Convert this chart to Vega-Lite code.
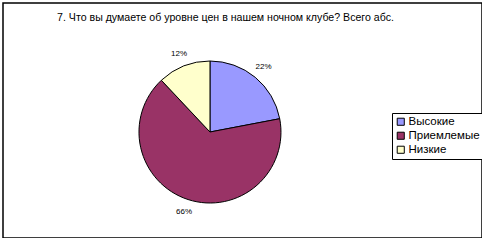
{
  "$schema": "https://vega.github.io/schema/vega-lite/v6.json",
  "width": 479,
  "height": 235,
  "autosize": {"type": "none"},
  "padding": {"left": 3, "top": 3, "right": 0, "bottom": 0},
  "background": "white",
  "config": {
    "view": {"stroke": "black", "strokeWidth": 1.5},
    "font": "Liberation Sans"
  },
  "title": {
    "text": "7. Что вы думаете об уровне цен в нашем ночном клубе? Всего абс.",
    "font": "Liberation Sans",
    "fontSize": 10.6,
    "fontWeight": "normal",
    "color": "black",
    "anchor": "middle",
    "frame": "group",
    "orient": "top",
    "offset": 0,
    "baseline": "top",
    "dx": -17,
    "dy": 21
  },
  "data": {
    "values": [
      {"n": 1, "answer": "Высокие", "share": 0.22, "chart": "Q7"},
      {"n": 2, "answer": "Приемлемые", "share": 0.66, "chart": "Q7"},
      {"n": 3, "answer": "Низкие", "share": 0.12, "chart": "Q7"}
    ]
  },
  "encoding": {
    "theta": {"field": "share", "type": "quantitative", "stack": true},
    "order": {"field": "n", "type": "quantitative"},
    "x": {"field": "chart", "type": "nominal", "scale": {"type": "point", "align": 0.4321}, "axis": null},
    "y": {"field": "chart", "type": "nominal", "scale": {"type": "point", "align": 0.549}, "axis": null}
  },
  "layer": [
    {
      "mark": {"type": "arc", "outerRadius": 71, "stroke": "black", "strokeWidth": 1},
      "encoding": {
        "color": {
          "field": "answer",
          "type": "nominal",
          "sort": ["Высокие", "Приемлемые", "Низкие"],
          "scale": {"domain": ["Высокие", "Приемлемые", "Низкие"], "range": ["#9999FF", "#993366", "#FFFFCC"]},
          "legend": {
            "orient": "none",
            "legendX": 389,
            "legendY": 110,
            "title": null,
            "strokeColor": "black",
            "fillColor": "white",
            "padding": 3,
            "symbolType": "square",
            "symbolSize": 50,
            "symbolStrokeColor": "black",
            "symbolStrokeWidth": 1,
            "symbolOpacity": 1,
            "labelFont": "Liberation Sans",
            "labelFontSize": 11.5,
            "labelColor": "black",
            "labelOffset": 2,
            "rowPadding": 1
          }
        }
      }
    },
    {
      "mark": {"type": "text", "radius": 84, "fontSize": 8, "font": "Liberation Sans", "color": "black"},
      "encoding": {
        "text": {"field": "share", "type": "quantitative", "format": ".0%"}
      }
    }
  ]
}
